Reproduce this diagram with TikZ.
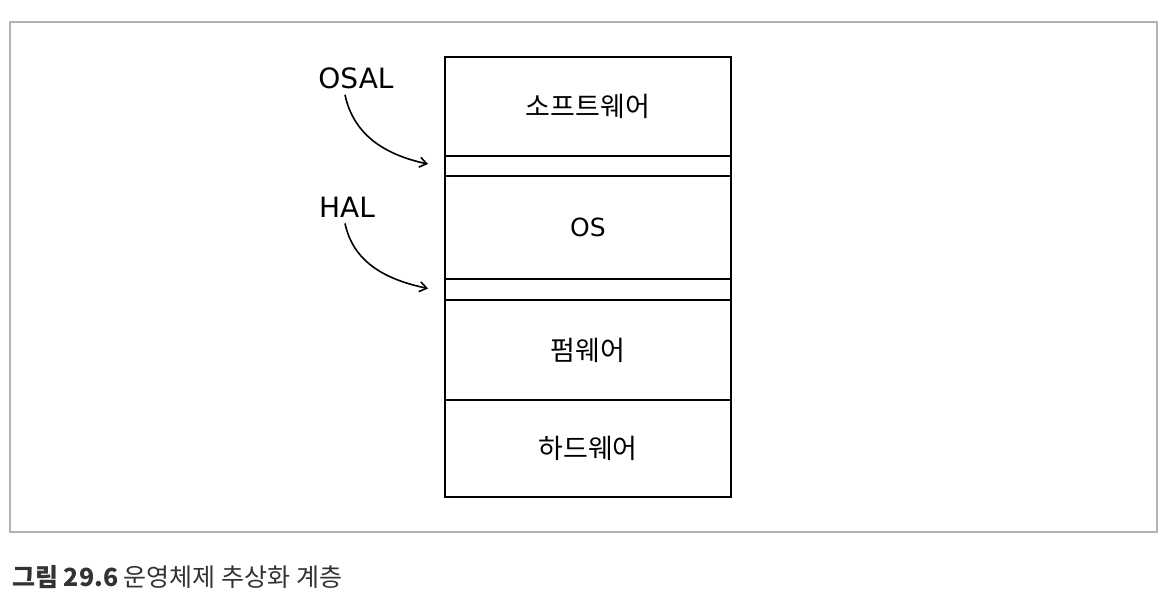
\documentclass[tikz,border=0pt]{standalone}
\usepackage{fontspec}
\setmainfont{Noto Sans CJK KR}
\newfontfamily\hand{DejaVu Sans}
\usetikzlibrary{arrows.meta}
\begin{document}
\begin{tikzpicture}[x=1pt,y=1pt,
  layer/.style={draw=black,line width=1.5pt,minimum width=286pt,inner sep=0pt,outer sep=0pt,font=\fontsize{27}{30}\selectfont},
  lbl/.style={font=\hand\fontsize{28}{30}\selectfont,inner sep=0pt},
  arr/.style={line width=1.6pt,-{Straight Barb[length=7pt,width=10pt]}},
  frame/.style={draw=black!30,line width=1.5pt}]
\useasboundingbox (0,0) rectangle (1168,-616);
\draw[frame] (10,-22) rectangle (1157,-532);
\node[layer,minimum height=99pt]  (sw)   at (588,-106.5) {소프트웨어};
\node[layer,minimum height=20pt]  (osal) at (588,-166) {};
\node[layer,minimum height=103pt] (os)   at (588,-227.5) {\hand\fontsize{25}{30}\selectfont OS};
\node[layer,minimum height=21pt]  (hal)  at (588,-289.5) {};
\node[layer,minimum height=100pt] (fw)   at (588,-350) {펌웨어};
\node[layer,minimum height=97pt]  (hw)   at (588,-448.5) {하드웨어};
\node[lbl] (osallbl) at (356,-78) {OSAL};
\node[lbl] (hallbl)  at (347,-207) {HAL};
\draw[arr] ([xshift=-11pt,yshift=-6pt]osallbl.south) to[out=-78,in=168] ([xshift=-17pt,yshift=2pt]osal.west);
\draw[arr] ([xshift=-2pt,yshift=-6pt]hallbl.south) to[out=-78,in=168] ([xshift=-17pt,yshift=1pt]hal.west);
\node[anchor=west,inner sep=0pt,text=black!80,font=\fontsize{25}{28}\selectfont] (cap) at (12,-577) {\textbf{그림 29.6} 운영체제 추상화 계층};
\end{tikzpicture}
\end{document}
